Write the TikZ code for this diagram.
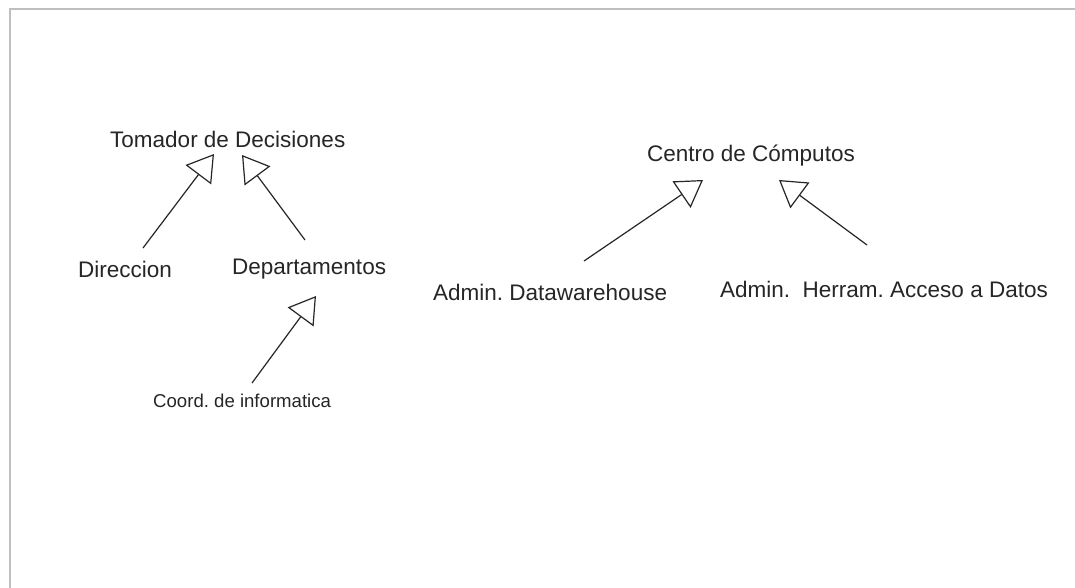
\documentclass[tikz,border=0pt]{standalone}
\usepackage{fontspec}
\setmainfont{Liberation Sans}
\usetikzlibrary{arrows.meta}
\frenchspacing

\tikzset{
  label/.style={anchor=base west, inner sep=0pt, font=\fontsize{22.5}{27}\selectfont, text=black!85},
  smalllabel/.style={label, font=\fontsize{18.6}{22}\selectfont},
  inherits/.style={draw=black!85, line width=1.2pt,
    -{Triangle[open, length=26pt, width=32pt, line width=1.2pt]}},
  frame/.style={draw=black!25, line width=2pt}
}

\begin{document}
\begin{tikzpicture}[x=1pt, y=-1pt]
  \useasboundingbox (0,0) rectangle (1075,588);
  \fill[white] (0,0) rectangle (1075,588);

  % page frame (top and left edges)
  \draw[frame] (9.5,588) -- (9.5,9.5) -- (1075,9.5);

  % left group
  \node[label] (tom)  at (110,148) {Tomador de Decisiones};
  \node[label] (dir)  at (78,277)  {Direccion};
  \node[label] (dep)  at (232,274) {Departamentos};
  \node[smalllabel] (coord) at (153,407) {Coord. de informatica};

  % right group
  \node[label] (cc)   at (647,162) {Centro de Cómputos};
  \node[label] (adw)  at (433,300) {Admin. Datawarehouse};
  \node[label] (aha)  at (720,297) {Admin.\ \ Herram. Acceso a Datos};

  % connector end points
  \coordinate (dir-out)   at (143,248);
  \coordinate (tom-in-l)  at (214,154);
  \coordinate (dep-out)   at (305,240);
  \coordinate (tom-in-r)  at (242,155);
  \coordinate (coord-out) at (252,383);
  \coordinate (dep-in)    at (316,296);
  \coordinate (adw-out)   at (584,261);
  \coordinate (cc-in-l)   at (703,180);
  \coordinate (aha-out)   at (867,245);
  \coordinate (cc-in-r)   at (779,180);

  % generalisation arrows
  \draw[inherits] (dir-out)   -- (tom-in-l);
  \draw[inherits] (dep-out)   -- (tom-in-r);
  \draw[inherits] (coord-out) -- (dep-in);
  \draw[inherits] (adw-out)   -- (cc-in-l);
  \draw[inherits] (aha-out)   -- (cc-in-r);
\end{tikzpicture}
\end{document}
